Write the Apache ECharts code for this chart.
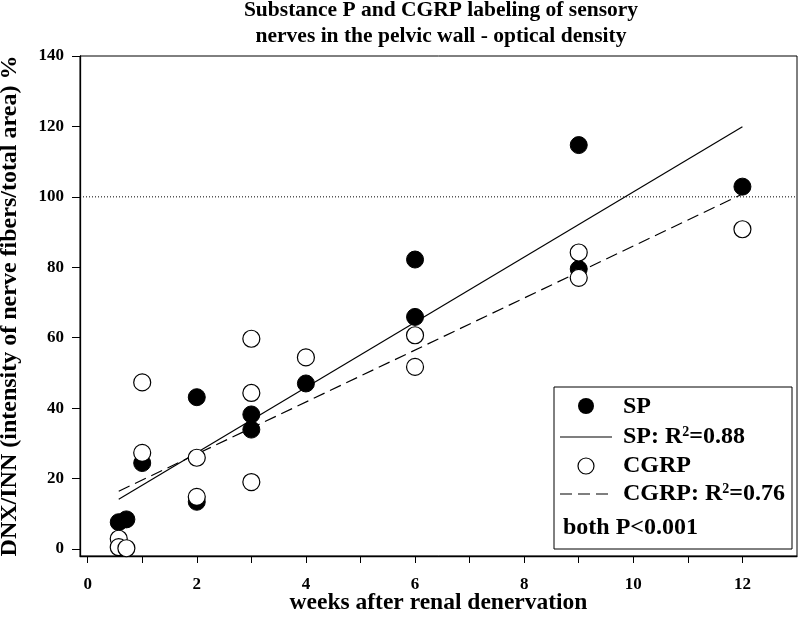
<!DOCTYPE html>
<html>
<head>
<meta charset="utf-8">
<script src="https://cdn.jsdelivr.net/npm/echarts@6/dist/echarts.min.js"></script>
<style>
html,body{margin:0;padding:0;background:#fff;}
#c{width:800px;height:618px;}
</style>
</head>
<body>
<div id="c"></div>
<script>
// ---- data ----
var spX = [0.57, 0.71, 1, 2, 2, 3, 3, 4, 6, 6, 9, 9, 12];
var spY = [7.6, 8.4, 24.4, 43.1, 13.4, 38.2, 33.9, 47.0, 82.2, 65.9, 114.7, 79.5, 102.9];
var cgrpX = [0.57, 0.57, 0.71, 1, 1, 2, 2, 3, 3, 3, 4, 6, 6, 9, 9, 12];
var cgrpY = [2.9, 0.5, 0.2, 47.3, 27.3, 25.9, 14.8, 59.7, 44.3, 19.0, 54.4, 60.7, 51.7, 84.2, 77.0, 90.8];
var spFitX = [0.57, 12];
var spFitY = [14.1, 119.9];
var cgrpFitX = [0.57, 12];
var cgrpFitY = [16.4, 100.8];
var refX = [-0.14, 13];
var refY = [100, 100];
var xTicks = [0, 1, 2, 3, 4, 5, 6, 7, 8, 9, 10, 11, 12];
var xLabels = [0, 2, 4, 6, 8, 10, 12];
var yTicks = [0, 20, 40, 60, 80, 100, 120, 140];

function pairs(xs, ys) { return xs.map(function (x, i) { return [x, ys[i]]; }); }

var FONT = '"Liberation Serif", "Times New Roman", serif';
var chart = echarts.init(document.getElementById('c'), null, {renderer: 'canvas'});

var supRich = {
  a: {fontFamily: FONT, fontWeight: 'bold', fontSize: 24, color: '#000', fill: '#000'},
  s: {fontFamily: FONT, fontWeight: 'bold', fontSize: 14, color: '#000', fill: '#000', verticalAlign: 'top', padding: [0, 0, 10, 0]}
};

var option = {
  backgroundColor: '#fff',
  animation: false,
  title: {
    text: 'Substance P and CGRP labeling of sensory\nnerves in the pelvic wall - optical density',
    left: 436, top: -7, textAlign: 'center',
    textStyle: {fontFamily: FONT, fontWeight: 'bold', fontSize: 21.5, color: '#000', lineHeight: 25.5}
  },
  grid: {left: 80, top: 56, width: 717, height: 500, show: true, borderColor: '#000', borderWidth: 1,
         backgroundColor: 'transparent', containLabel: false, outerBoundsMode: 'none'},
  xAxis: {
    type: 'value', min: -0.14, max: 13,
    name: 'weeks after renal denervation', nameLocation: 'middle', nameGap: 35, nameMoveOverlap: false,
    nameTextStyle: {fontFamily: FONT, fontWeight: 'bold', fontSize: 23.5, color: '#000'},
    axisLine: {show: true, onZero: false, lineStyle: {color: '#000', width: 1.3}},
    axisTick: {show: true, length: 7, customValues: xTicks, lineStyle: {color: '#000', width: 1}},
    axisLabel: {customValues: xLabels, margin: 20, fontFamily: FONT, fontWeight: 'bold', fontSize: 17, color: '#000'},
    splitLine: {show: false}
  },
  yAxis: {
    type: 'value', min: -2, max: 140,
    name: 'DNX/INN (intensity of nerve fibers/total area) %', nameLocation: 'middle', nameGap: 58, nameMoveOverlap: false,
    nameTextStyle: {fontFamily: FONT, fontWeight: 'bold', fontSize: 24, color: '#000'},
    axisLine: {show: true, onZero: false, lineStyle: {color: '#000', width: 1.3}},
    axisTick: {show: true, length: 8, customValues: yTicks, lineStyle: {color: '#000', width: 1}},
    axisLabel: {customValues: yTicks, margin: 16, fontFamily: FONT, fontWeight: 'bold', fontSize: 17, color: '#000'},
    splitLine: {show: false}
  },
  series: [
    {type: 'line', name: 'ref', data: pairs(refX, refY), symbol: 'none', silent: true, z: 1,
     lineStyle: {color: '#000', width: 1, type: [1, 2]}},
    {type: 'line', name: 'SP fit', data: pairs(spFitX, spFitY), symbol: 'none', z: 2,
     lineStyle: {color: '#000', width: 1.2, type: 'solid'}},
    {type: 'line', name: 'CGRP fit', data: pairs(cgrpFitX, cgrpFitY), symbol: 'none', z: 2,
     lineStyle: {color: '#000', width: 1.2, type: [12, 6]}},
    {type: 'scatter', name: 'SP', data: pairs(spX, spY), symbol: 'circle', symbolSize: 17, z: 3,
     itemStyle: {color: '#000', borderColor: '#000', borderWidth: 1, opacity: 1}},
    {type: 'scatter', name: 'CGRP', data: pairs(cgrpX, cgrpY), symbol: 'circle', symbolSize: 17, z: 4,
     itemStyle: {color: '#fff', borderColor: '#000', borderWidth: 1.2, opacity: 1}}
  ],
  graphic: [
    {type: 'rect', shape: {x: 554, y: 387, width: 238, height: 162}, style: {fill: '#fff', stroke: '#000', lineWidth: 1}, z: 10},
    {type: 'circle', shape: {cx: 586, cy: 406, r: 8}, style: {fill: '#000'}, z: 11},
    {type: 'line', shape: {x1: 560, y1: 437, x2: 612, y2: 437}, style: {stroke: '#000', lineWidth: 1.2}, z: 11},
    {type: 'circle', shape: {cx: 586, cy: 466, r: 8}, style: {fill: '#fff', stroke: '#000', lineWidth: 1.2}, z: 11},
    {type: 'line', shape: {x1: 560, y1: 494, x2: 612, y2: 494}, style: {stroke: '#000', lineWidth: 1.2, lineDash: [12, 6]}, z: 11},
    {type: 'text', x: 623, y: 407, z: 11, style: {text: 'SP', font: 'bold 24px ' + FONT, fill: '#000', verticalAlign: 'middle'}},
    {type: 'text', x: 623, y: 437, z: 11, style: {text: '{a|SP: R}{s|2}{a|=0.88}', verticalAlign: 'middle', rich: supRich}},
    {type: 'text', x: 623, y: 466, z: 11, style: {text: 'CGRP', font: 'bold 24px ' + FONT, fill: '#000', verticalAlign: 'middle'}},
    {type: 'text', x: 623, y: 494, z: 11, style: {text: '{a|CGRP: R}{s|2}{a|=0.76}', verticalAlign: 'middle', rich: supRich}},
    {type: 'text', x: 563, y: 528, z: 11, style: {text: 'both P<0.001', font: 'bold 24px ' + FONT, fill: '#000', verticalAlign: 'middle'}}
  ]
};
chart.setOption(option);
</script>
</body>
</html>
